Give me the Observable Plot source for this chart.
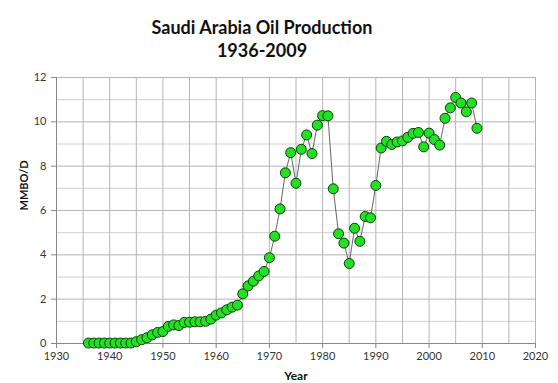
<!DOCTYPE html>
<html>
<head>
<meta charset="utf-8">
<script src="https://cdn.jsdelivr.net/npm/d3@7"></script>
<script src="https://cdn.jsdelivr.net/npm/@observablehq/plot@0.6"></script>
<style>
  html, body { margin: 0; padding: 0; background: #fff; }
  #wrap { position: relative; width: 558px; height: 383px; font-family: Lato, "Open Sans", sans-serif; }
  #title { position: absolute; left: 0; top: 16px; width: 524px; text-align: center;
           font-size: 18px; font-weight: bold; line-height: 23px; color: #111; z-index: 2; }
</style>
</head>
<body>
<div id="wrap">
  <div id="title">Saudi Arabia Oil Production<br>1936-2009</div>
</div>
<script>
const years = d3.range(1936, 2010);
const production = [
  0.02, 0.02, 0.02, 0.02, 0.02, 0.02, 0.02, 0.02, 0.02, // 1936-1944
  0.08, 0.17, 0.26, 0.39, 0.50,                         // 1945-1949
  0.54, 0.77, 0.84, 0.81, 0.95, 0.96, 0.98, 0.98, 1.00, 1.10, // 1950-1959
  1.28, 1.38, 1.52, 1.64, 1.73, 2.24, 2.60, 2.81, 3.05, 3.25, // 1960-1969
  3.87, 4.84, 6.07, 7.70, 8.61, 7.23, 8.76, 9.41, 8.57, 9.85, // 1970-1979
  10.28, 10.27, 6.98, 4.95, 4.53, 3.61, 5.20, 4.61, 5.73, 5.67, // 1980-1989
  7.13, 8.82, 9.12, 8.98, 9.09, 9.14, 9.30, 9.48, 9.52, 8.87, // 1990-1999
  9.49, 9.20, 8.95, 10.16, 10.63, 11.10, 10.85, 10.45, 10.85, 9.71 // 2000-2009
];
const xTicks = [1930, 1940, 1950, 1960, 1970, 1980, 1990, 2000, 2010, 2020];
const yTicks = [0, 2, 4, 6, 8, 10, 12];
const xGrid = d3.range(1935, 2021, 5);
const yGridMinor = [1, 3, 5, 7, 9, 11];
const yGridMajor = [2, 4, 6, 8, 10, 12];

const data = years.map((y, i) => ({year: y, value: production[i]}));

const chart = Plot.plot({
  width: 558,
  height: 383,
  marginLeft: 56,
  marginRight: 23,
  marginTop: 77,
  marginBottom: 40,
  style: {fontFamily: "Lato, 'Open Sans', sans-serif", fontSize: "11px", color: "#333", background: "transparent"},
  x: {domain: [1930, 2020], ticks: xTicks, tickFormat: d => String(d), tickSize: 5, tickPadding: 4, label: null},
  y: {domain: [0, 12], ticks: yTicks, tickSize: 5, tickPadding: 5, label: null},
  marks: [
    Plot.ruleY(yGridMinor, {stroke: "#d0d0d0", strokeWidth: 1}),
    Plot.ruleY(yGridMajor, {stroke: "#b4b4b4", strokeWidth: 1}),
    Plot.ruleX(xGrid, {stroke: "#b4b4b4", strokeWidth: 1}),
    Plot.ruleX([1930], {stroke: "#888", strokeWidth: 1}),
    Plot.ruleY([0], {stroke: "#888", strokeWidth: 1}),
    Plot.axisX({ticks: xTicks, tickFormat: d => String(d), tickSize: 5, tickPadding: 4, stroke: "#888", fill: "#333", fontSize: 11, label: null}),
    Plot.axisY({ticks: yTicks, tickSize: 5, tickPadding: 5, stroke: "#888", fill: "#333", fontSize: 11, label: null}),
    Plot.line(data, {x: "year", y: "value", stroke: "#666", strokeWidth: 1}),
    Plot.dot(data, {x: "year", y: "value", r: 5, fill: "#22e022", stroke: "#0a3d0a", strokeWidth: 1}),
    Plot.text(["Year"], {frameAnchor: "bottom", dy: 36, text: d => d, fontWeight: "bold", fontSize: 12, fill: "#111"}),
    Plot.text(["MMBO/D"], {frameAnchor: "left", dx: -32, rotate: -90, text: d => d, fontWeight: "bold", fontSize: 11, fill: "#111"})
  ]
});
document.getElementById("wrap").appendChild(chart);
chart.style.position = "absolute";
chart.style.left = "0";
chart.style.top = "0";
</script>
</body>
</html>
